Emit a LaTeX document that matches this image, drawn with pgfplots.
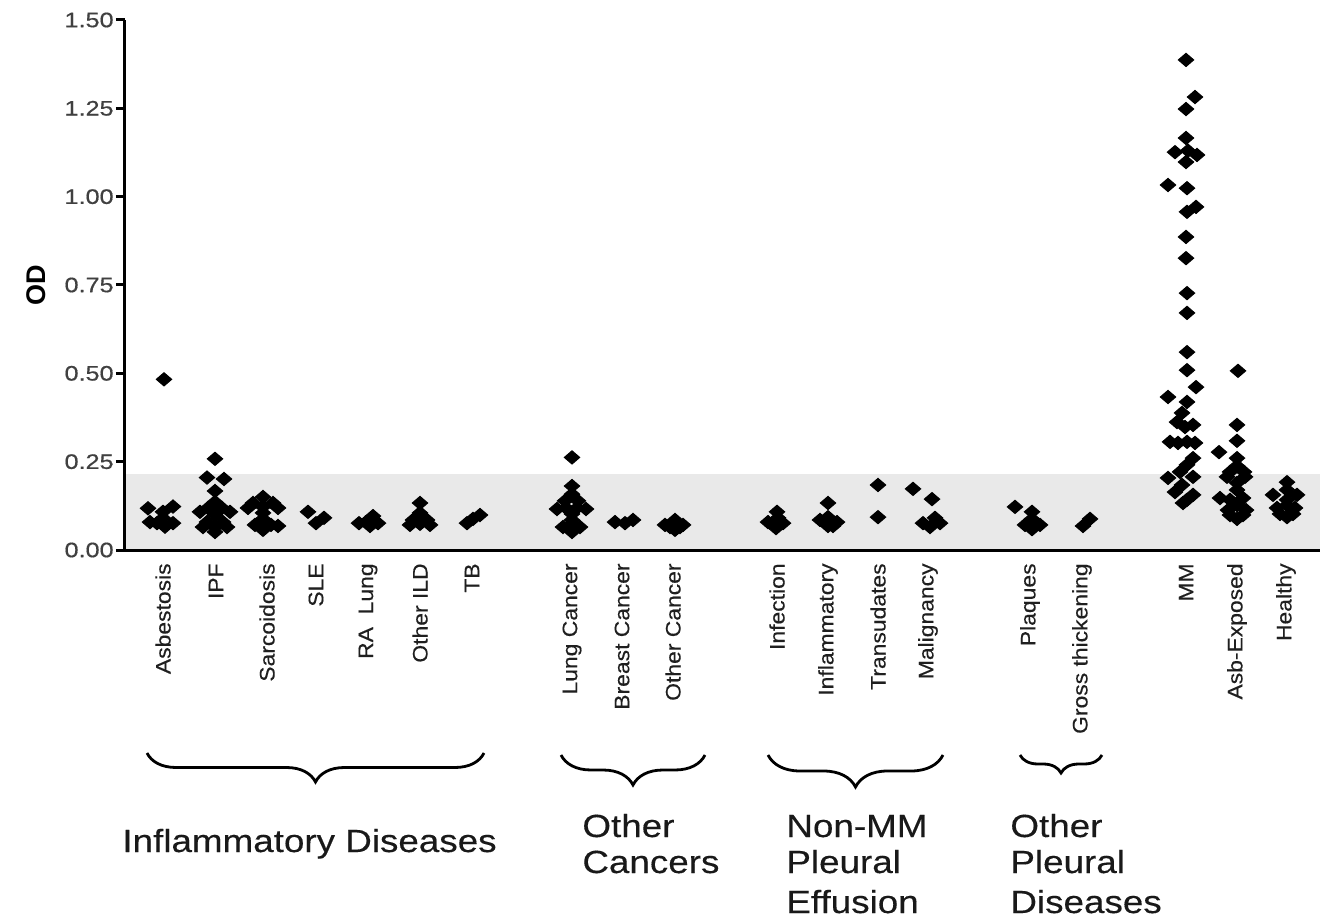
\documentclass[border=0pt]{standalone}
\usepackage{fontspec}
\setmainfont{Liberation Sans}
\newfontfamily\ytfont[FakeStretch=1.2,FakeBold=0.6]{Liberation Sans}
\newfontfamily\xtfont[FakeStretch=1.09,FakeBold=0.3]{Liberation Sans}
\newfontfamily\grpfont[FakeStretch=1.15,FakeBold=0.3]{Liberation Sans}
\usepackage{pgfplots}
\pgfplotsset{compat=1.18}
\usetikzlibrary{decorations.pathreplacing}

\begin{document}
\begin{tikzpicture}
\useasboundingbox (-62.5pt,-184.5pt) rectangle (597.5pt,275pt);
\begin{axis}[
  scale only axis, width=597.5pt, height=265pt,
  xmin=125, xmax=1320, ymin=0, ymax=1.5,
  axis x line=bottom, axis y line=left,
  axis line style={-, line width=1.5pt, black},
  axis on top, clip=false,
  ytick={0,0.25,0.5,0.75,1,1.25,1.5},
  /pgf/number format/assume math mode=true,
  yticklabel style={font=\ytfont\fontsize{10.5}{12}\selectfont, text=black!75, inner sep=1pt,
    /pgf/number format/.cd, fixed, fixed zerofill, precision=2},
  tick align=outside, major tick length=4.5pt,
  ytick style={line width=1.5pt, black},
  xtick={163,216,267,316,368,420,472,572,622,673,777,828,878,928,1030,1082,1186,1237,1286},
  xticklabels={Asbestosis,IPF,Sarcoidosis,SLE,RA\ \ Lung,Other ILD,TB,Lung Cancer,Breast Cancer,Other Cancer,Infection,Inflammatory,Transudates,Malignancy,Plaques,Gross thickening,MM,Asb-Exposed,Healthy},
  xtick style={draw=none},
  xticklabel style={rotate=90, anchor=east, font=\xtfont\fontsize{10.5}{12}\selectfont, text=black!88, inner sep=2pt},
  pt/.style={only marks, mark=diamond*, mark size=3.3pt, black,
    mark options={xscale=1.55, fill=black, draw=black, line width=0.5pt}},
]
% reference band
\addplot[draw=none, fill=gray!17, mark=none] coordinates {(125,0.214) (1320,0.214)} \closedcycle;
% Asbestosis
\addplot[pt] coordinates {(164,0.483) (148,0.118) (163,0.108) (173,0.123) (157,0.076) (165,0.066) (173,0.076) (163,0.090) (150,0.079)};
% IPF
\addplot[pt] coordinates {(215,0.258) (207,0.205) (224,0.201) (215,0.167) (215,0.136) (208,0.119) (222,0.119) (200,0.108) (230,0.108) (215,0.099) (207,0.079) (223,0.079) (215,0.065) (215,0.051) (203,0.065) (227,0.065)};
% Sarcoidosis
\addplot[pt] coordinates {(263,0.150) (253,0.133) (273,0.133) (263,0.122) (278,0.119) (248,0.119) (263,0.105) (263,0.088) (255,0.071) (271,0.071) (263,0.057) (278,0.068)};
% SLE
\addplot[pt] coordinates {(308,0.108) (316,0.076) (324,0.091)};
% RA Lung
\addplot[pt] coordinates {(359,0.076) (366,0.079) (373,0.096) (378,0.076) (370,0.068)};
% Other ILD
\addplot[pt] coordinates {(420,0.133) (420,0.105) (413,0.085) (427,0.085) (420,0.074) (410,0.071) (430,0.071)};
% TB
\addplot[pt] coordinates {(467,0.076) (473,0.088) (480,0.099)};
% Lung Cancer
\addplot[pt] coordinates {(572,0.262) (572,0.181) (572,0.158) (565,0.139) (578,0.139) (557,0.116) (586,0.116) (566,0.119) (577,0.119) (572,0.102) (572,0.085) (563,0.065) (580,0.065) (572,0.051) (572,0.074)};
% Breast Cancer
\addplot[pt] coordinates {(615,0.079) (625,0.076) (633,0.085)};
% Other Cancer
\addplot[pt] coordinates {(665,0.071) (675,0.085) (683,0.071) (675,0.057) (670,0.065) (680,0.065)};
% Infection
\addplot[pt] coordinates {(777,0.108) (768,0.079) (783,0.076) (776,0.062) (778,0.091)};
% Inflammatory
\addplot[pt] coordinates {(828,0.133) (820,0.085) (837,0.079) (828,0.093) (828,0.068) (833,0.068)};
% Transudates
\addplot[pt] coordinates {(878,0.184) (878,0.093)};
% Malignancy
\addplot[pt] coordinates {(913,0.173) (932,0.144) (935,0.091) (923,0.076) (940,0.076) (930,0.065)};
% Plaques
\addplot[pt] coordinates {(1015,0.122) (1032,0.108) (1025,0.071) (1040,0.071) (1032,0.088) (1032,0.059)};
% Gross thickening
\addplot[pt] coordinates {(1090,0.088) (1083,0.068)};
% MM
\addplot[pt] coordinates {(1186,1.387) (1195,1.282) (1186,1.248) (1186,1.166) (1175,1.126) (1188,1.130) (1197,1.118) (1186,1.098) (1168,1.033) (1187,1.024) (1196,0.971) (1187,0.957) (1186,0.886) (1186,0.826)
 (1187,0.727) (1187,0.671) (1187,0.560) (1187,0.509) (1196,0.461) (1168,0.433) (1187,0.419) (1182,0.388) (1177,0.362) (1193,0.354) (1185,0.348) (1170,0.306) (1187,0.306) (1195,0.303) (1178,0.303) (1193,0.260) (1187,0.241) (1180,0.221) (1168,0.204) (1193,0.207) (1182,0.184) (1175,0.164) (1193,0.156) (1187,0.142) (1183,0.133)};
% Asb-Exposed
\addplot[pt] coordinates {(1238,0.507) (1237,0.354) (1237,0.309) (1219,0.277) (1237,0.260) (1237,0.238) (1230,0.221) (1244,0.221) (1227,0.207) (1245,0.207) (1237,0.190) (1237,0.170) (1220,0.147) (1243,0.147) (1230,0.142) (1237,0.127) (1228,0.113) (1246,0.113) (1230,0.099) (1243,0.099) (1237,0.088)};
% Healthy
\addplot[pt] coordinates {(1287,0.192) (1273,0.156) (1297,0.156) (1287,0.170) (1287,0.142) (1277,0.119) (1295,0.119) (1287,0.127) (1280,0.102) (1293,0.102) (1287,0.093)};
\end{axis}
\begin{scope}[x=0.5pt,y=0.5pt,shift={(-62.5pt,275pt)}]
  \node[rotate=90, font=\bfseries\fontsize{13.5}{15}\selectfont, inner sep=0pt] at (36,-285) {OD};
  \draw[line width=1.4pt, decorate, decoration={brace, mirror, amplitude=14.5pt}] (147,-753) -- (484,-753);
  \draw[line width=1.4pt, decorate, decoration={brace, mirror, amplitude=15pt}] (561,-755) -- (705,-755);
  \draw[line width=1.4pt, decorate, decoration={brace, mirror, amplitude=16pt}] (768,-755) -- (943,-755);
  \draw[line width=1.4pt, decorate, decoration={brace, mirror, amplitude=9pt}] (1020,-755) -- (1102,-755);
  \begin{scope}[every node/.style={anchor=base west, inner sep=0pt, text=black!90, font=\grpfont\fontsize{16}{19}\selectfont}]
    \node at (122,-852) {Inflammatory Diseases};
    \node at (582,-837) {Other};
    \node at (582,-873) {Cancers};
    \node at (786,-837) {Non-MM};
    \node at (786,-873) {Pleural};
    \node at (786,-913) {Effusion};
    \node at (1010,-837) {Other};
    \node at (1010,-873) {Pleural};
    \node at (1010,-913) {Diseases};
  \end{scope}
\end{scope}
\end{tikzpicture}
\end{document}
